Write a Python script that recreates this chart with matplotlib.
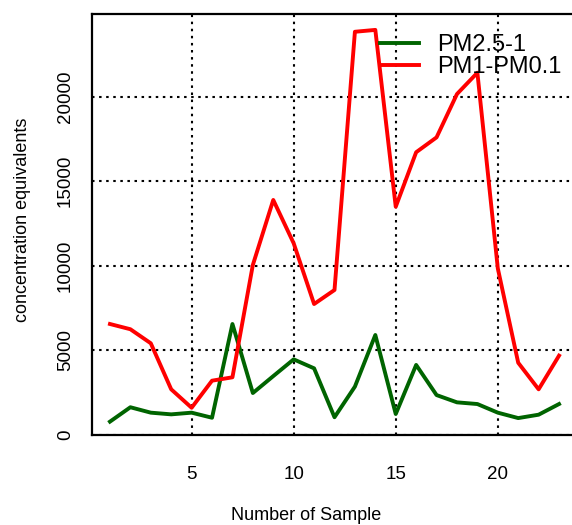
import matplotlib
matplotlib.use("Agg")
import matplotlib.pyplot as plt
import numpy as np

plt.rcParams['font.family'] = ['Liberation Sans', 'DejaVu Sans']

samples = np.arange(1, 24)
pm25_1 = [790, 1640, 1320, 1220, 1320, 1020, 6560, 2480, 3480, 4470, 3940, 1050,
          2860, 5910, 1240, 4140, 2360, 1930, 1830, 1320, 1000, 1200, 1830]
pm1_pm01 = [6560, 6250, 5420, 2700, 1610, 3210, 3410, 10050, 13890, 11330, 7740, 8570,
            23830, 23940, 13490, 16710, 17590, 20150, 21410, 9850, 4270, 2700, 4690]
xticks = [5, 10, 15, 20]
yticks = [0, 5000, 10000, 15000, 20000]

fig = plt.figure(figsize=(5.72, 5.25), dpi=100)
ax = fig.add_axes([92 / 572, 90 / 525, 485 / 572, 421 / 525])

ax.plot(samples, pm25_1, color='#006400', linewidth=2.8, label='PM2.5-1')
ax.plot(samples, pm1_pm01, color='#ff0000', linewidth=2.8, label='PM1-PM0.1')

ax.set_xlim(0.12, 23.88)
ax.set_ylim(0, 24880)
ax.set_xticks(xticks)
ax.set_yticks(yticks)

# dotted grid like R's grid()
ax.grid(True, color='black', linestyle=(0, (1.2, 2.2)), linewidth=1.5)
ax.set_axisbelow(True)

for s in ['left', 'top', 'bottom']:
    ax.spines[s].set_linewidth(1.6)
ax.spines['right'].set_visible(False)

ax.tick_params(axis='both', length=0, labelsize=13.5, colors='black')
ax.tick_params(axis='x', pad=22)
ax.tick_params(axis='y', pad=13)
for lab in ax.get_yticklabels():
    lab.set_rotation(90)
    lab.set_va('center')
    lab.set_ha('right')

ax.set_xlabel('Number of Sample', fontsize=13)
ax.xaxis.set_label_coords(0.441, -0.172)
ax.xaxis.label.set_va('top')
ax.set_ylabel('concentration equivalents', fontsize=13)
ax.yaxis.set_label_coords(-0.125, 0.511)

ax.legend(loc='upper left', bbox_to_anchor=((380 - 92) / 485, 1 - (34 - 14) / 421),
          frameon=False, fontsize=17, handlelength=1.67, handletextpad=0.75,
          labelspacing=0.0, borderpad=0, borderaxespad=0)

fig.savefig('out.png', dpi=100)
